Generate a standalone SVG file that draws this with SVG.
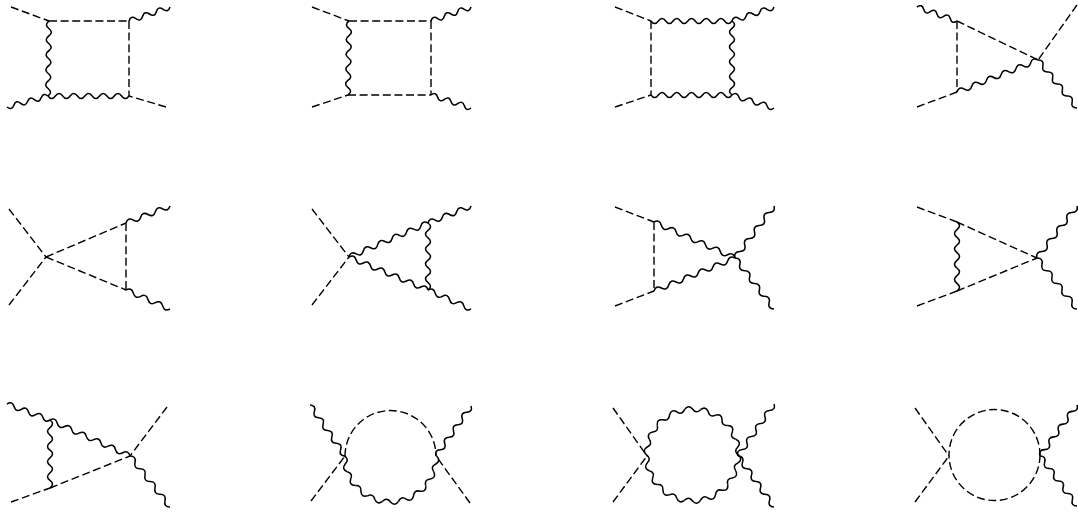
<svg xmlns="http://www.w3.org/2000/svg" width="1078" height="512" viewBox="0 0 1078 512">
<style>
path,circle{fill:none;stroke:#000;stroke-width:1.55}
.d{stroke-width:1.4;stroke-dasharray:8 3.6}
</style>
<defs>
<path id="p" d="M46 0Q50.81 4.45 45.3 7.99Q39.6 10.61 43.23 15.73"/>
<g id="half">
<use href="#p"/><use href="#p" transform="rotate(20)"/><use href="#p" transform="rotate(40)"/><use href="#p" transform="rotate(60)"/><use href="#p" transform="rotate(80)"/><use href="#p" transform="rotate(100)"/><use href="#p" transform="rotate(120)"/><use href="#p" transform="rotate(140)"/><use href="#p" transform="rotate(160)"/>
</g>
</defs>
<rect width="1078" height="512" fill="#fff"/>
<g id="connectors">
<g id="d11">
<path class="d" d="M11 7L49 21"/><path class="d" d="M49 21H129"/><path class="d" d="M129 21V96"/><path class="d" d="M166 107L129 96"/>
<path d="M49 21q-5.05 3.68 -.1 7.5t-.1 7.5t-.1 7.5t-.1 7.5t-.1 7.5t-.1 7.5t-.1 7.5t-.1 7.5t-.1 7.5t-.1 7.5"/>
<path d="M48 96q3.68 5 7.364 0t7.364 0t7.364 0t7.364 0t7.364 0t7.364 0t7.364 0t7.364 0t7.364 0t7.364 0t7.364 0"/>
<path d="M129 21q1.8 -5.9 6.833 -2.333t6.833 -2.333t6.833 -2.333t6.833 -2.333t6.833 -2.333t6.833 -2.333"/>
<path d="M48 96q-4.72 -3.91 -6.833 1.833t-6.833 1.833t-6.833 1.833t-6.833 1.833t-6.833 1.833t-6.833 1.833"/>
</g>
<g id="d12">
<path class="d" d="M312 7L349 21"/><path class="d" d="M349 21H431"/><path class="d" d="M431 21V95"/><path class="d" d="M348 95H431"/><path class="d" d="M312 107L348 95"/>
<path d="M349 21q-5.05 3.63 -.1 7.4t-.1 7.4t-.1 7.4t-.1 7.4t-.1 7.4t-.1 7.4t-.1 7.4t-.1 7.4t-.1 7.4t-.1 7.4"/>
<path d="M431 21q1.68 -5.89 6.667 -2.333t6.667 -2.333t6.667 -2.333t6.667 -2.333t6.667 -2.333t6.667 -2.333"/>
<path d="M431 95q4.87 -3.67 6.667 2.167t6.667 2.167t6.667 2.167t6.667 2.167t6.667 2.167t6.667 2.167"/>
</g>
<g id="d13">
<path class="d" d="M615 7L651 21"/><path class="d" d="M651 21V95"/><path class="d" d="M615 107L651 95"/>
<path d="M651 21q3.68 5 7.364 0t7.364 0t7.364 0t7.364 0t7.364 0t7.364 0t7.364 0t7.364 0t7.364 0t7.364 0t7.364 0"/>
<path d="M651 95q3.68 5 7.364 0t7.364 0t7.364 0t7.364 0t7.364 0t7.364 0t7.364 0t7.364 0t7.364 0t7.364 0t7.364 0"/>
<path d="M732 21q5 3.7 0 7.4t0 7.4t0 7.4t0 7.4t0 7.4t0 7.4t0 7.4t0 7.4t0 7.4t0 7.4"/>
<path d="M732 21q1.92 -5.91 7 -2.333t7 -2.333t7 -2.333t7 -2.333t7 -2.333t7 -2.333"/>
<path d="M732 95q4.98 -3.7 7 2.167t7 2.167t7 2.167t7 2.167t7 2.167t7 2.167"/>
</g>
<g id="d14">
<path class="d" d="M957 21V92"/><path class="d" d="M917 107L957 92"/><path class="d" d="M957 21L1038 60"/><path class="d" d="M1077 5L1038 60"/>
<path d="M917 7q4.98 -3.55 6.667 2.333t6.667 2.333t6.667 2.333t6.667 2.333t6.667 2.333t6.667 2.333"/>
<path d="M957 92q1.84 -6.1 7.364 -2.909t7.364 -2.909t7.364 -2.909t7.364 -2.909t7.364 -2.909t7.364 -2.909t7.364 -2.909t7.364 -2.909t7.364 -2.909t7.364 -2.909t7.364 -2.909"/>
<path d="M1038 60q6.32 -.16 4.875 6t4.875 6t4.875 6t4.875 6t4.875 6t4.875 6t4.875 6t4.875 6"/>
</g>
<g id="d21">
<path class="d" d="M9 209L46 257"/><path class="d" d="M9 305L46 257"/><path class="d" d="M46 257L126 223"/><path class="d" d="M46 257L126 290"/><path class="d" d="M126 223V290"/>
<path d="M126 223q1.87 -6.08 7.333 -2.833t7.333 -2.833t7.333 -2.833t7.333 -2.833t7.333 -2.833t7.333 -2.833"/>
<path d="M126 290q5.65 -3.01 7.333 3.167t7.333 3.167t7.333 3.167t7.333 3.167t7.333 3.167t7.333 3.167"/>
</g>
<g id="d22">
<path class="d" d="M312 209L349 257"/><path class="d" d="M312 305L349 257"/>
<path d="M349 257q1.61 -6.15 7.182 -3.091t7.182 -3.091t7.182 -3.091t7.182 -3.091t7.182 -3.091t7.182 -3.091t7.182 -3.091t7.182 -3.091t7.182 -3.091t7.182 -3.091t7.182 -3.091"/>
<path d="M349 257q5.52 -3.12 7.182 3t7.182 3t7.182 3t7.182 3t7.182 3t7.182 3t7.182 3t7.182 3t7.182 3t7.182 3t7.182 3"/>
<path d="M428 223q5 3.72 0 7.444t0 7.444t0 7.444t0 7.444t0 7.444t0 7.444t0 7.444t0 7.444t0 7.444"/>
<path d="M428 223q1.78 -6.08 7.167 -2.833t7.167 -2.833t7.167 -2.833t7.167 -2.833t7.167 -2.833t7.167 -2.833"/>
<path d="M428 290q5.56 -3.01 7.167 3.167t7.167 3.167t7.167 3.167t7.167 3.167t7.167 3.167t7.167 3.167"/>
</g>
<g id="d23">
<path class="d" d="M615 207L654 222"/><path class="d" d="M654 222V291"/><path class="d" d="M615 306L654 291"/>
<path d="M654 222q5.71 -2.93 7.364 3.273t7.364 3.273t7.364 3.273t7.364 3.273t7.364 3.273t7.364 3.273t7.364 3.273t7.364 3.273t7.364 3.273t7.364 3.273t7.364 3.273"/>
<path d="M654 291q1.79 -6.13 7.364 -3t7.364 -3t7.364 -3t7.364 -3t7.364 -3t7.364 -3t7.364 -3t7.364 -3t7.364 -3t7.364 -3t7.364 -3"/>
<path d="M735 258q-1.56 -6.25 4.875 -6.5t4.875 -6.5t4.875 -6.5t4.875 -6.5t4.875 -6.5t4.875 -6.5t4.875 -6.5t4.875 -6.5"/>
<path d="M735 258q6.41 .15 4.875 6.375t4.875 6.375t4.875 6.375t4.875 6.375t4.875 6.375t4.875 6.375t4.875 6.375t4.875 6.375"/>
</g>
<g id="d24">
<path class="d" d="M917 207L957 222"/><path class="d" d="M957 222L1037 258"/><path class="d" d="M957 291L1037 258"/><path class="d" d="M917 306L957 291"/>
<path d="M957 222q5 3.83 0 7.667t0 7.667t0 7.667t0 7.667t0 7.667t0 7.667t0 7.667t0 7.667t0 7.667"/>
<path d="M1037 258q-1.46 -6.3 5 -6.5t5 -6.5t5 -6.5t5 -6.5t5 -6.5t5 -6.5t5 -6.5t5 -6.5"/>
<path d="M1037 258q6.44 .1 5 6.375t5 6.375t5 6.375t5 6.375t5 6.375t5 6.375t5 6.375t5 6.375"/>
</g>
<g id="d31">
<path class="d" d="M11 502L50 488"/><path class="d" d="M50 488L130 456"/><path class="d" d="M167 407L130 456"/>
<path d="M7 404q5.32 -3.36 7.167 2.667t7.167 2.667t7.167 2.667t7.167 2.667t7.167 2.667t7.167 2.667"/>
<path d="M50 420q5 3.78 0 7.556t0 7.556t0 7.556t0 7.556t0 7.556t0 7.556t0 7.556t0 7.556t0 7.556"/>
<path d="M50 420q5.67 -2.93 7.273 3.273t7.273 3.273t7.273 3.273t7.273 3.273t7.273 3.273t7.273 3.273t7.273 3.273t7.273 3.273t7.273 3.273t7.273 3.273t7.273 3.273"/>
<path d="M130 456q6.44 .1 5 6.375t5 6.375t5 6.375t5 6.375t5 6.375t5 6.375t5 6.375t5 6.375"/>
</g>
<g id="d32">
<path class="d" d="M311 501L345 456"/><path class="d" d="M345 456A45.500 45.500 0 0 1 436 456"/><path class="d" d="M470 503L436 456"/>
<use href="#half" transform="translate(390.500 456)"/>
<path d="M310 405q6.31 .36 4.375 6.375t4.375 6.375t4.375 6.375t4.375 6.375t4.375 6.375t4.375 6.375t4.375 6.375t4.375 6.375"/>
<path d="M436 456q-1.91 -6 4.375 -6.25t4.375 -6.25t4.375 -6.25t4.375 -6.25t4.375 -6.25t4.375 -6.25t4.375 -6.25t4.375 -6.25"/>
</g>
<g id="d33">
<path class="d" d="M613 408L647 456"/><path class="d" d="M613 502L647 456"/>
<use href="#half" transform="translate(692.500 455)"/>
<use href="#half" transform="translate(692.500 455) rotate(180)"/>
<path d="M738 456q-1.86 -6.1 4.5 -6.5t4.5 -6.5t4.5 -6.5t4.5 -6.5t4.5 -6.5t4.5 -6.5t4.5 -6.5t4.5 -6.5"/>
<path d="M738 456q6.34 .31 4.5 6.375t4.5 6.375t4.5 6.375t4.5 6.375t4.5 6.375t4.5 6.375t4.5 6.375t4.5 6.375"/>
</g>
<g id="d34">
<path class="d" d="M915 408L949 456"/><path class="d" d="M915 502L949 456"/>
<circle class="d" cx="994.500" cy="455" r="45.500"/>
<path d="M1040 456q-1.74 -6.13 4.625 -6.375t4.625 -6.375t4.625 -6.375t4.625 -6.375t4.625 -6.375t4.625 -6.375t4.625 -6.375t4.625 -6.375"/>
<path d="M1040 456q6.33 .16 4.625 6.25t4.625 6.25t4.625 6.25t4.625 6.25t4.625 6.25t4.625 6.25t4.625 6.25t4.625 6.25"/>
</g>
</g>
</svg>
